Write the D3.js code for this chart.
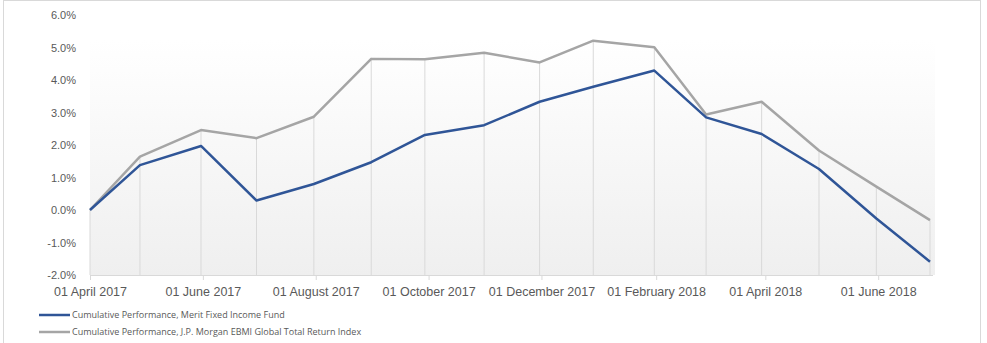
<!DOCTYPE html>
<html>
<head>
<meta charset="utf-8">
<script src="https://cdn.jsdelivr.net/npm/d3@7"></script>
<style>
  body { margin: 0; background: #fff; }
  svg { display: block; font-family: "Open Sans", "Liberation Sans", sans-serif; }
</style>
</head>
<body>
<svg id="chart" width="987" height="343"></svg>
<script>
// month-end observation dates
var dates = ["2017-04-01", "2017-04-28", "2017-05-31", "2017-06-30", "2017-07-31", "2017-08-31",
  "2017-09-29", "2017-10-31", "2017-11-30", "2017-12-29", "2018-01-31", "2018-02-28",
  "2018-03-30", "2018-04-30", "2018-05-31", "2018-06-29"];
var meritFund = [0.0, 1.38, 1.97, 0.29, 0.80, 1.47, 2.31, 2.61, 3.33, 3.79, 4.29, 2.85, 2.34, 1.26, -0.26, -1.59];
var jpmIndex = [0.0, 1.64, 2.46, 2.21, 2.87, 4.65, 4.64, 4.84, 4.54, 5.21, 5.01, 2.94, 3.33, 1.83, 0.72, -0.31];
var yTicks = [-2, -1, 0, 1, 2, 3, 4, 5, 6];
var xTicks = ["2017-04-01", "2017-06-01", "2017-08-01", "2017-10-01", "2017-12-01",
  "2018-02-01", "2018-04-01", "2018-06-01"];
var seriesNames = ["Cumulative Performance, Merit Fixed Income Fund",
  "Cumulative Performance, J.P. Morgan EBMI Global Total Return Index"];
var seriesColors = ["#2f5597", "#a5a5a5"];

var parse = d3.timeParse("%Y-%m-%d");
var fmtDate = d3.timeFormat("%d %B %Y");
var svg = d3.select("#chart");

// outer chart border
svg.append("rect")
  .attr("x", 3.5).attr("y", 0.5)
  .attr("width", 977).attr("height", 350)
  .attr("fill", "none").attr("stroke", "#d9d9d9");

var plotL = 90, plotR = 933, plotT = 15, plotB = 275;

var x = d3.scaleTime()
  .domain([parse("2017-04-01"), parse("2018-06-29")])
  .range([plotL, 930]);
var y = d3.scaleLinear().domain([-2, 6]).range([plotB, plotT]);

// plot area gradient
var grad = svg.append("defs").append("linearGradient")
  .attr("id", "bg").attr("x1", 0).attr("y1", 0).attr("x2", 0).attr("y2", 1);
grad.append("stop").attr("offset", "0%").attr("stop-color", "#ffffff");
grad.append("stop").attr("offset", "100%").attr("stop-color", "#efefef");
svg.append("rect")
  .attr("x", plotL).attr("y", plotT + 25)
  .attr("width", 935 - plotL).attr("height", plotB - plotT - 25)
  .attr("fill", "url(#bg)");

var rows = dates.map(function(d, i) {
  return { date: parse(d), a: meritFund[i], b: jpmIndex[i] };
});

// drop lines
svg.append("g").selectAll("line")
  .data(rows)
  .enter().append("line")
  .attr("x1", function(d) { return x(d.date); })
  .attr("x2", function(d) { return x(d.date); })
  .attr("y1", function(d) { return y(Math.max(d.a, d.b)); })
  .attr("y2", plotB)
  .attr("stroke", "#d9d9d9").attr("stroke-width", 1);

// x axis
var xAxis = svg.append("g")
  .attr("transform", "translate(0," + plotB + ")")
  .call(d3.axisBottom(x)
    .tickValues(xTicks.map(parse))
    .tickSize(5).tickPadding(7)
    .tickFormat(fmtDate));
xAxis.select(".domain").attr("stroke", "#d9d9d9").attr("d", "M" + plotL + ",0.5H" + plotR);
xAxis.selectAll(".tick line").attr("stroke", "#d9d9d9");
xAxis.selectAll("text").attr("fill", "#595959").style("font-size", "12.5px");

// y axis labels
var yAxis = svg.append("g")
  .attr("transform", "translate(" + plotL + ",0)")
  .call(d3.axisLeft(y).tickValues(yTicks).tickSize(0).tickPadding(14)
    .tickFormat(function(d) { return d.toFixed(1) + "%"; }));
yAxis.select(".domain").remove();
yAxis.selectAll("text").attr("fill", "#595959").style("font-size", "11px");

// series lines
var keys = ["a", "b"];
[1, 0].forEach(function(i) {
  var k = keys[i];
  svg.append("path")
    .datum(rows)
    .attr("fill", "none")
    .attr("stroke", seriesColors[i])
    .attr("stroke-width", 2.5)
    .attr("stroke-linejoin", "round")
    .attr("d", d3.line()
      .x(function(d) { return x(d.date); })
      .y(function(d) { return y(d[k]); }));
});

// legend
var legend = svg.append("g");
seriesNames.forEach(function(name, i) {
  var ly = 315 + i * 17;
  legend.append("line")
    .attr("x1", 39).attr("x2", 70).attr("y1", ly).attr("y2", ly)
    .attr("stroke", seriesColors[i]).attr("stroke-width", 2.5);
  legend.append("text")
    .attr("x", 72).attr("y", ly + 3)
    .attr("fill", "#595959").style("font-size", "9px")
    .text(name);
});
</script>
</body>
</html>
